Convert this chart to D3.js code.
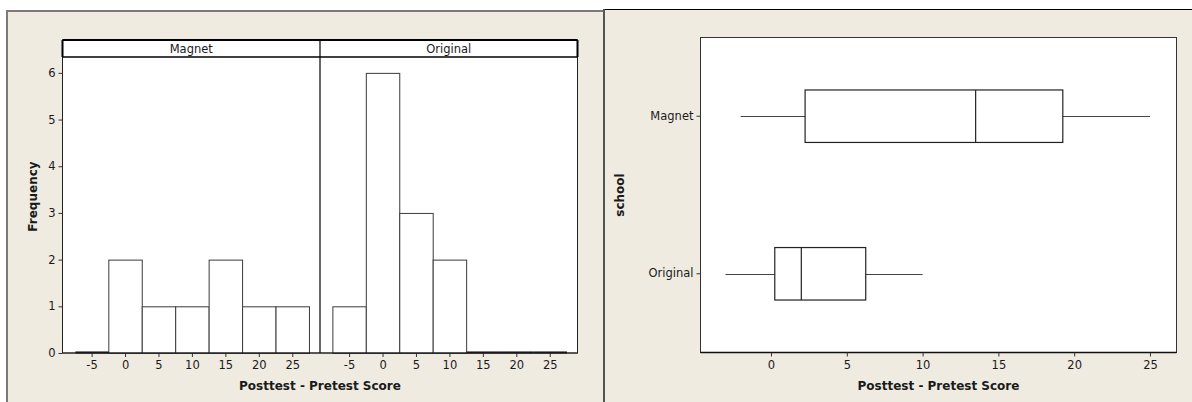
<!DOCTYPE html>
<html>
<head>
<meta charset="utf-8">
<script src="https://cdn.jsdelivr.net/npm/d3@7"></script>
<style>
  body { margin: 0; background: #ffffff; }
  svg { display: block; }
  text { font-family: "DejaVu Sans", Verdana, sans-serif; fill: #1a1a1a; }
</style>
</head>
<body>
<svg id="chart" width="1192" height="402"></svg>
<script>
// ---------- data ----------
const panels = ["Magnet", "Original"];
const binMids = [-5, 0, 5, 10, 15, 20, 25];
const magnetFreq = [0, 2, 1, 1, 2, 1, 1];
const originalFreq = [1, 6, 3, 2, 0, 0, 0];
const freqTicks = [0, 1, 2, 3, 4, 5, 6];
const histScoreTicks = [-5, 0, 5, 10, 15, 20, 25];
const boxScoreTicks = [0, 5, 10, 15, 20, 25];
const schools = ["Magnet", "Original"];
const boxMin = [-2, -3];
const boxQ1 = [2.25, 0.25];
const boxMedian = [13.5, 2];
const boxQ3 = [19.25, 6.25];
const boxMax = [25, 10];
const binWidth = 5;

// ---------- layout ----------
const beige = "#efebe1";
const svg = d3.select("#chart");
const regFont = "11.5px";
const boldFont = "12px";
const fmt = d => String(d);

// panel backgrounds
svg.append("rect").attr("x", 7).attr("y", 11).attr("width", 597).attr("height", 400)
  .attr("fill", beige).attr("stroke", "#7a7a7a").attr("stroke-width", 2);
svg.append("rect").attr("x", 605).attr("y", 9.5).attr("width", 600).attr("height", 400)
  .attr("fill", beige).attr("stroke", "none");
svg.append("line").attr("x1", 604).attr("x2", 1192).attr("y1", 9.5).attr("y2", 9.5)
  .attr("stroke", "#000").attr("stroke-width", 1);
svg.append("line").attr("x1", 604).attr("x2", 604).attr("y1", 9).attr("y2", 402)
  .attr("stroke", "#555").attr("stroke-width", 2);

// ---------- left: paneled histogram ----------
const L = { left: 62.5, right: 577.5, headTop: 40, headBottom: 57, bottom: 353 };
const panelW = (L.right - L.left) / 2;
const yFreq = d3.scaleLinear().domain([0, 6.34]).range([L.bottom, L.headBottom]);
const xHist = d3.scaleLinear().domain([-9.35, 29.15]).range([0, panelW]);
const panelX = d3.scaleBand().domain(panels).range([L.left, L.right]).padding(0);

const gL = svg.append("g");
gL.append("rect").attr("x", L.left).attr("y", L.headTop)
  .attr("width", L.right - L.left).attr("height", L.bottom - L.headTop)
  .attr("fill", "#fff").attr("stroke", "none");

const freqs = { Magnet: magnetFreq, Original: originalFreq };
panels.forEach(p => {
  const g = gL.append("g").attr("transform", `translate(${panelX(p)},0)`);
  const bins = binMids.map((m, i) => ({ m, f: freqs[p][i] }));
  g.selectAll("rect.bar").data(bins.filter(d => d.f > 0))
    .join("rect").attr("class", "bar")
    .attr("x", d => xHist(d.m - binWidth / 2) + 0.5)
    .attr("width", d => xHist(d.m + binWidth / 2) - xHist(d.m - binWidth / 2))
    .attr("y", d => yFreq(d.f) + 0.5)
    .attr("height", d => yFreq(0) - yFreq(d.f))
    .attr("fill", "#fff").attr("stroke", "#3a3a3a").attr("stroke-width", 1);
  // zero-count bins are drawn as flat outlines on the baseline
  g.selectAll("line.zero").data(bins.filter(d => d.f === 0))
    .join("line").attr("class", "zero")
    .attr("x1", d => xHist(d.m - binWidth / 2) + 0.5)
    .attr("x2", d => xHist(d.m + binWidth / 2) + 0.5)
    .attr("y1", yFreq(0) - 0.5).attr("y2", yFreq(0) - 0.5)
    .attr("stroke", "#000").attr("stroke-width", 2);
  // x axis
  const ax = g.append("g").attr("transform", `translate(0,${L.bottom})`)
    .call(d3.axisBottom(xHist).tickValues(histScoreTicks).tickFormat(fmt)
      .tickSize(4).tickPadding(4).tickSizeOuter(0));
  ax.select(".domain").remove();
  ax.selectAll("line").attr("stroke", "#333");
  ax.selectAll("text").attr("font-size", regFont).style("font-family", "DejaVu Sans");
  // header label
  gL.append("text").attr("x", panelX(p) + panelW / 2).attr("y", (L.headTop + L.headBottom) / 2 + 0.5)
    .attr("text-anchor", "middle").attr("dominant-baseline", "middle")
    .attr("font-size", regFont).text(p);
});

// frame
gL.append("rect").attr("x", L.left).attr("y", L.headTop)
  .attr("width", L.right - L.left).attr("height", L.bottom - L.headTop)
  .attr("fill", "none").attr("stroke", "#222").attr("stroke-width", 1);
gL.append("line").attr("x1", L.left).attr("x2", L.right).attr("y1", L.headTop).attr("y2", L.headTop)
  .attr("stroke", "#000").attr("stroke-width", 2);
gL.append("line").attr("x1", L.left).attr("x2", L.right).attr("y1", L.headBottom).attr("y2", L.headBottom)
  .attr("stroke", "#000").attr("stroke-width", 1.5);
gL.append("line").attr("x1", L.left).attr("x2", L.left).attr("y1", L.headTop).attr("y2", L.headBottom)
  .attr("stroke", "#000").attr("stroke-width", 2);
gL.append("line").attr("x1", L.right).attr("x2", L.right).attr("y1", L.headTop).attr("y2", L.headBottom)
  .attr("stroke", "#000").attr("stroke-width", 2);
gL.append("line").attr("x1", panelX("Original")).attr("x2", panelX("Original"))
  .attr("y1", L.headTop).attr("y2", L.bottom).attr("stroke", "#000").attr("stroke-width", 1.2);
gL.append("line").attr("x1", L.left).attr("x2", L.right).attr("y1", L.bottom).attr("y2", L.bottom)
  .attr("stroke", "#222").attr("stroke-width", 1.2);

// y axis
const ay = gL.append("g").attr("transform", `translate(${L.left},0)`)
  .call(d3.axisLeft(yFreq).tickValues(freqTicks).tickFormat(fmt)
    .tickSize(4).tickPadding(3).tickSizeOuter(0));
ay.select(".domain").remove();
ay.selectAll("line").attr("stroke", "#333");
ay.selectAll("text").attr("font-size", regFont).style("font-family", "DejaVu Sans");

gL.append("text").attr("x", (L.left + L.right) / 2).attr("y", 390)
  .attr("text-anchor", "middle").attr("font-size", boldFont).attr("font-weight", "bold")
  .text("Posttest - Pretest Score");
gL.append("text").attr("transform", `translate(37,${(L.headTop + L.bottom) / 2}) rotate(-90)`)
  .attr("text-anchor", "middle").attr("font-size", boldFont).attr("font-weight", "bold")
  .text("Frequency");

// ---------- right: boxplot ----------
const R = { left: 700.5, right: 1176.5, top: 37.5, bottom: 352.5 };
const xBox = d3.scaleLinear().domain([-4.65, 26.75]).range([R.left, R.right]);
const yBand = d3.scaleBand().domain(schools).range([R.top, R.bottom]).paddingInner(0.667).paddingOuter(0.333);
const gR = svg.append("g");
gR.append("rect").attr("x", R.left).attr("y", R.top).attr("width", R.right - R.left)
  .attr("height", R.bottom - R.top).attr("fill", "#fff").attr("stroke", "#333").attr("stroke-width", 1);
gR.append("line").attr("x1", R.left).attr("x2", R.right).attr("y1", R.bottom).attr("y2", R.bottom)
  .attr("stroke", "#111").attr("stroke-width", 1.5);

const boxes = schools.map((s, i) => ({ s, min: boxMin[i], q1: boxQ1[i], med: boxMedian[i], q3: boxQ3[i], max: boxMax[i] }));
const bg = gR.selectAll("g.box").data(boxes).join("g").attr("class", "box");
const cy = d => Math.round(yBand(d.s) + yBand.bandwidth() / 2) + 0.5;
bg.append("line").attr("x1", d => xBox(d.min)).attr("x2", d => xBox(d.q1))
  .attr("y1", cy).attr("y2", cy).attr("stroke", "#444").attr("stroke-width", 1.2);
bg.append("line").attr("x1", d => xBox(d.q3)).attr("x2", d => xBox(d.max))
  .attr("y1", cy).attr("y2", cy).attr("stroke", "#444").attr("stroke-width", 1.2);
bg.append("rect").attr("x", d => xBox(d.q1)).attr("width", d => xBox(d.q3) - xBox(d.q1))
  .attr("y", d => yBand(d.s)).attr("height", yBand.bandwidth())
  .attr("fill", "#fff").attr("stroke", "#222").attr("stroke-width", 1.2);
bg.append("line").attr("x1", d => xBox(d.med)).attr("x2", d => xBox(d.med))
  .attr("y1", d => yBand(d.s)).attr("y2", d => yBand(d.s) + yBand.bandwidth())
  .attr("stroke", "#222").attr("stroke-width", 1.2);

const axR = gR.append("g").attr("transform", `translate(0,${R.bottom})`)
  .call(d3.axisBottom(xBox).tickValues(boxScoreTicks).tickFormat(fmt)
    .tickSize(4).tickPadding(4).tickSizeOuter(0));
axR.select(".domain").remove();
axR.selectAll("line").attr("stroke", "#333");
axR.selectAll("text").attr("font-size", regFont).style("font-family", "DejaVu Sans");

const ayR = gR.append("g").attr("transform", `translate(${R.left},0)`)
  .call(d3.axisLeft(yBand).tickSize(4).tickPadding(3).tickSizeOuter(0));
ayR.select(".domain").remove();
ayR.selectAll("line").attr("stroke", "#333");
ayR.selectAll("text").attr("font-size", regFont).style("font-family", "DejaVu Sans");

gR.append("text").attr("x", (R.left + R.right) / 2).attr("y", 390)
  .attr("text-anchor", "middle").attr("font-size", boldFont).attr("font-weight", "bold")
  .text("Posttest - Pretest Score");
gR.append("text").attr("transform", `translate(624,${(R.top + R.bottom) / 2}) rotate(-90)`)
  .attr("text-anchor", "middle").attr("font-size", boldFont).attr("font-weight", "bold")
  .text("school");
</script>
</body>
</html>
